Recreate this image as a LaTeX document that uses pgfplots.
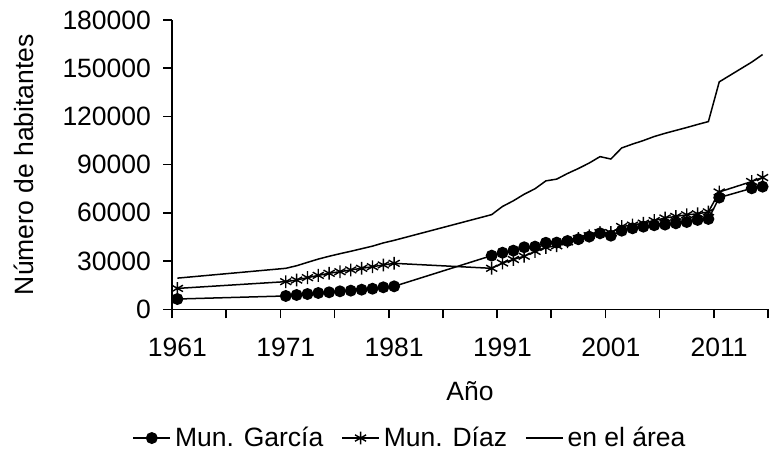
\documentclass[border=0pt]{standalone}
\usepackage{fontspec}
\setmainfont{Liberation Sans}
\usepackage{pgfplots}
\pgfplotsset{compat=1.18}
\newcommand{\bigf}{\fontsize{13.25}{15}\selectfont}
\begin{document}
\begin{tikzpicture}
\useasboundingbox (-86pt,-72.85pt) rectangle (299pt,154.65pt);
\begin{axis}[
  at={(0,0)}, anchor=south west,
  scale only axis, width=298pt, height=144.65pt,
  xmin=1960.5, xmax=2015.5, ymin=0, ymax=180000,
  axis lines*=left,
  axis line style={line width=0.8pt, black},
  tick align=outside,
  major tick length=4.5pt,
  every tick/.style={line width=0.8pt, black},
  xtick={1960.5,1965.5,1970.5,1975.5,1980.5,1985.5,1990.5,1995.5,2000.5,2005.5,2010.5,2015.5},
  xticklabels={1961,,1971,,1981,,1991,,2001,,2011,},
  ytick={0,30000,60000,90000,120000,150000,180000},
  scaled y ticks=false,
  /pgf/number format/assume math mode=true,
  yticklabel style={/pgf/number format/fixed,/pgf/number format/1000 sep={},xshift=-2.5pt},
  ticklabel style={font=\bigf},
  xticklabel style={xshift=2.7pt,yshift=-6.5pt},
  xlabel={Año}, ylabel={Número de habitantes},
  label style={font=\bigf},
  xlabel style={at={(axis description cs:0.5,-0.282)}, anchor=center},
  ylabel style={at={(axis description cs:-0.248,0.5)}, anchor=center},
  legend columns=3,
  legend style={draw=none, font=\bigf, at={(0.401,-0.445)}, anchor=center,
    /tikz/every even column/.append style={column sep=7pt}},
  legend image code/.code={\draw[mark repeat=2,mark phase=2,#1] plot coordinates {(0pt,0pt) (9.25pt,0pt) (18.5pt,0pt)};},
]
\addplot[black, line width=0.75pt, mark=*, mark size=2.6pt] coordinates {
(1961,6400) (1971,8300) (1972,8900) (1973,9500) (1974,10150) (1975,10600)
(1976,11200) (1977,11600) (1978,12200) (1979,12800) (1980,13700) (1981,14300)
(1990,33400) (1991,35200) (1992,36500) (1993,38600) (1994,39000) (1995,41400)
(1996,41500) (1997,42500) (1998,43600) (1999,45200) (2000,47300) (2001,45800)
(2002,48900) (2003,50400) (2004,51400) (2005,52300) (2006,52700) (2007,53500)
(2008,54300) (2009,55600) (2010,56200) (2011,69500) (2014,75300) (2015,76300)
};
\addlegendentry{Mun. García}
\addplot[black, line width=0.75pt, mark=asterisk, mark size=3.2pt, mark options={line width=0.7pt}] coordinates {
(1961,13000) (1971,17200) (1972,18200) (1973,19700) (1974,21100) (1975,22400)
(1976,23400) (1977,24500) (1978,25500) (1979,26500) (1980,27600) (1981,28600)
(1990,25500) (1991,28800) (1992,31000) (1993,33000) (1994,36000) (1995,38500)
(1996,39500) (1997,42000) (1998,44000) (1999,45800) (2000,47700) (2001,47700)
(2002,51500) (2003,52400) (2004,53600) (2005,55200) (2006,56800) (2007,57800)
(2008,58800) (2009,59400) (2010,60600) (2011,73000) (2014,79500) (2015,82000)
};
\addlegendentry{Mun. Díaz}
\addplot[black, line width=0.75pt] coordinates {
(1961,19400) (1971,25500) (1972,27100) (1973,29200) (1974,31250) (1975,33000)
(1976,34600) (1977,36100) (1978,37700) (1979,39300) (1980,41300) (1981,42900)
(1990,58900) (1991,64000) (1992,67500) (1993,71600) (1994,75000) (1995,79900)
(1996,81000) (1997,84500) (1998,87600) (1999,91000) (2000,95000) (2001,93500)
(2002,100400) (2003,102800) (2004,105000) (2005,107500) (2006,109500) (2007,111300)
(2008,113100) (2009,115000) (2010,116800) (2011,141500) (2014,153800) (2015,158500)
};
\addlegendentry{en el área}
\end{axis}
\end{tikzpicture}
\end{document}
